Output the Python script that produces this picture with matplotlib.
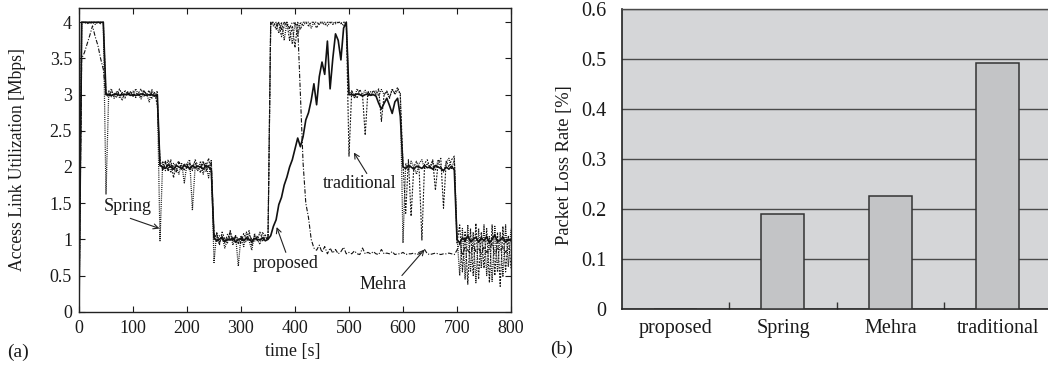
import matplotlib
matplotlib.use('Agg')
import matplotlib.pyplot as plt
import numpy as np

plt.rcParams['font.family'] = ['Liberation Serif', 'DejaVu Serif']

# ---------------- data: (a) access link utilization [Mbps] -----------------
time_s = np.arange(0, 805, 5)

proposed_util = [
    0, 4.0, 4.0, 4.0, 4.0, 4.0, 4.0, 4.0, 4.0, 4.0,
    3.0, 3.0, 2.99, 3.0, 3.01, 2.99, 3.0, 3.0, 3.01, 2.99,
    3.0, 2.99, 3.0, 3.01, 3.0, 2.99, 3.0, 3.0, 2.98, 3.0,
    2.02, 2.0, 1.98, 2.03, 2.0, 1.97, 2.02, 2.0, 1.98, 2.02,
    2.0, 1.98, 2.02, 1.99, 2.01, 2.0, 1.97, 2.02, 2.0, 1.96,
    1.02, 0.98, 1.0, 1.03, 0.97, 1.0, 0.99, 1.02, 0.96, 1.0,
    1.01, 0.98, 1.02, 1.0, 0.97, 1.01, 1.0, 0.99, 1.02, 0.98,
    1.0, 1.05, 1.18, 1.27, 1.48, 1.58, 1.75, 1.86, 2.0, 2.1,
    2.25, 2.4, 2.28, 2.42, 2.65, 2.75, 2.92, 3.15, 2.86, 3.25,
    3.45, 3.28, 3.74, 3.08, 3.5, 3.84, 3.75, 3.48, 3.92, 4.0,
    3.0, 3.0, 2.99, 3.01, 3.0, 2.98, 3.0, 3.01, 2.99, 3.0,
    2.98, 2.88, 2.8, 2.88, 2.95, 2.85, 2.74, 2.9, 2.95, 2.7,
    2.0, 1.98, 2.02, 2.0, 1.97, 2.01, 2.0, 1.98, 2.02, 1.99,
    2.0, 1.97, 2.02, 2.0, 1.98, 1.95, 2.0, 1.97, 2.01, 1.96,
    1.0, 0.95, 1.02, 0.98, 1.05, 0.97, 1.0, 1.03, 0.96, 1.02,
    0.98, 1.04, 0.95, 1.0, 1.06, 0.97, 0.99, 1.03, 0.96, 1.0,
    0.98]

mehra_util = [
    0, 3.5, 3.58, 3.7, 3.82, 3.95, 3.8, 3.68, 3.5, 3.35,
    3.0, 3.05, 2.97, 3.02, 3.0, 2.96, 3.03, 2.99, 3.0, 3.04,
    2.98, 3.02, 3.0, 2.97, 3.05, 3.0, 2.98, 3.03, 3.0, 2.96,
    2.05, 1.98, 2.08, 1.95, 2.03, 2.0, 1.93, 2.07, 2.0, 1.96,
    2.04, 1.95, 2.02, 2.06, 1.97, 2.0, 2.08, 1.94, 2.03, 2.05,
    1.08, 0.97, 1.05, 1.0, 0.95, 1.07, 1.0, 0.98, 1.04, 0.94,
    1.03, 1.0, 0.96, 1.06, 1.0, 0.97, 1.04, 1.0, 0.98, 1.02,
    1.0, 3.98, 4.0, 3.95, 4.0, 3.9, 4.0, 3.97, 3.92, 4.0,
    3.98, 3.95, 3.0, 2.05, 1.5, 1.3, 1.0, 0.88, 0.85, 0.92,
    0.82, 0.9, 0.8, 0.88, 0.81, 0.86, 0.8, 0.83, 0.89, 0.8,
    0.82, 0.8, 0.84, 0.8, 0.79, 0.88, 0.8, 0.82, 0.8, 0.83,
    0.8, 0.79, 0.86, 0.8, 0.81, 0.8, 0.83, 0.79, 0.8, 0.8,
    0.82, 0.79, 0.8, 0.8, 0.81, 0.79, 0.8, 0.82, 0.86, 0.8,
    0.79, 0.8, 0.81, 0.8, 0.79, 0.8, 0.8, 0.81, 0.8, 0.79,
    0.85, 0.95, 0.78, 0.9, 0.85, 0.8, 0.92, 0.83, 0.88, 0.8,
    0.9, 0.82, 0.86, 0.95, 0.8, 0.88, 0.84, 0.9, 0.82, 0.87,
    0.85]

spring_util = [
    0, 4.0, 4.0, 3.98, 4.0, 4.0, 3.97, 4.0, 4.0, 4.0,
    1.62, 3.02, 3.08, 2.95, 3.05, 3.0, 2.92, 3.06, 3.0, 3.04,
    2.97, 3.08, 3.0, 2.94, 3.05, 3.02, 2.9, 3.07, 2.97, 3.05,
    0.98, 2.08, 1.95, 2.1, 1.92, 2.05, 2.0, 1.9, 2.06, 1.78,
    2.05, 2.1, 1.4, 2.0, 1.95, 2.08, 1.9, 2.05, 1.85, 2.1,
    0.68, 1.1, 0.95, 1.05, 0.88, 1.0, 1.1, 0.92, 1.05, 0.63,
    1.05, 0.9, 1.1, 0.98, 0.85, 1.08, 1.0, 0.93, 1.1, 1.02,
    1.0, 4.0, 3.95, 4.0, 3.85, 4.0, 3.75, 4.0, 3.9, 3.7,
    4.0, 3.8, 4.0, 3.95, 4.0, 4.0, 3.92, 4.0, 4.0, 3.97,
    4.0, 4.0, 3.95, 4.0, 4.0, 3.98, 4.0, 4.0, 3.95, 4.0,
    3.0, 3.05, 2.95, 3.08, 3.0, 3.0, 3.06, 2.97, 3.04, 3.0,
    3.05, 2.98, 3.07, 3.0, 3.04, 2.95, 3.08, 3.0, 3.06, 3.02,
    0.95, 2.05, 1.95, 2.08, 2.0, 1.9, 2.05, 2.1, 1.97, 2.05,
    2.0, 2.08, 1.95, 2.1, 2.0, 1.93, 2.06, 2.12, 1.98, 2.1,
    1.05, 0.5, 1.15, 0.45, 1.2, 0.55, 1.1, 0.4, 1.15, 0.6,
    1.2, 0.5, 1.05, 0.42, 1.18, 0.55, 1.1, 0.48, 1.2, 0.62,
    1.15]

traditional_util = [
    0, 4.0, 4.0, 4.0, 3.98, 4.0, 4.0, 4.0, 3.98, 4.0,
    3.0, 2.97, 3.05, 3.0, 2.96, 3.08, 3.0, 2.95, 3.04, 3.0,
    3.05, 2.96, 3.02, 3.08, 2.98, 3.0, 3.06, 2.95, 3.03, 2.85,
    2.1, 1.95, 2.05, 1.98, 2.1, 1.85, 2.04, 2.08, 1.96, 2.05,
    1.98, 2.06, 1.95, 2.1, 2.02, 1.92, 2.07, 2.0, 2.12, 1.9,
    1.0, 1.08, 0.92, 1.1, 1.0, 0.95, 1.12, 0.98, 1.05, 1.0,
    0.95, 1.08, 1.0, 1.12, 0.92, 1.05, 0.98, 1.1, 1.0, 1.06,
    1.0, 4.0, 4.0, 3.9, 4.0, 3.8, 3.95, 4.0, 3.75, 3.95,
    3.65, 4.0, 3.9, 4.0, 4.0, 3.95, 4.0, 4.0, 3.92, 4.0,
    4.0, 3.96, 4.0, 4.0, 3.97, 4.0, 4.0, 3.98, 4.0, 4.0,
    2.15, 3.05, 3.0, 2.95, 3.07, 3.0, 2.44, 3.05, 2.98, 3.06,
    3.0, 3.08, 2.63, 3.0, 3.05, 2.96, 3.07, 3.02, 3.1, 3.0,
    2.05, 1.36, 2.1, 1.32, 2.0, 2.08, 1.95, 0.99, 2.05, 2.1,
    1.98, 2.1, 1.68, 2.05, 2.12, 1.43, 2.08, 2.0, 2.1, 2.15,
    0.95, 1.2, 0.55, 1.1, 0.38, 1.15, 0.5, 1.22, 0.45, 1.1,
    0.6, 1.15, 0.4, 1.2, 0.5, 1.1, 0.35, 1.18, 0.55, 1.05,
    0.6]

util_yticks = [0, 0.5, 1, 1.5, 2, 2.5, 3, 3.5, 4]
util_yticklabels = ['0', '0.5', '1', '1.5', '2', '2.5', '3', '3.5', '4']
time_xticks = [0, 100, 200, 300, 400, 500, 600, 700, 800]

# ---------------- data: (b) packet loss rate [%] -----------------
bar_categories = ['proposed', 'Spring', 'Mehra', 'traditional']
loss_rate = [0.0, 0.19, 0.227, 0.492]
loss_yticks = [0, 0.1, 0.2, 0.3, 0.4, 0.5, 0.6]
loss_yticklabels = ['0', '0.1', '0.2', '0.3', '0.4', '0.5', '0.6']

# ---------------- figure -----------------
W, H = 1048, 368
fig = plt.figure(figsize=(W / 100, H / 100), dpi=100)
txtc = '#1a1a1a'

# (a)
ax1 = fig.add_axes([79 / W, (H - 311.7) / H, 432 / W, (311.7 - 7.8) / H])
ink = '#111111'
ax1.plot(time_s, traditional_util, color=ink, lw=0.8, dashes=(1.6, 1.2))
ax1.plot(time_s, spring_util, color=ink, lw=0.9, dashes=(0.8, 0.9))
ax1.plot(time_s, mehra_util, color=ink, lw=0.8, dashes=(4, 1.5, 1, 1.5))
ax1.plot(time_s, proposed_util, color=ink, lw=1.2)

ax1.set_xlim(0, 800)
ax1.set_ylim(0, 4.2)
ax1.set_xticks(time_xticks)
ax1.set_yticks(util_yticks)
ax1.set_yticklabels(util_yticklabels)
ax1.tick_params(direction='in', top=True, right=True, length=4, width=0.8,
                labelsize=13, colors=txtc)
ax1.tick_params(axis='x', pad=6)
ax1.tick_params(axis='y', pad=5)
for s in ax1.spines.values():
    s.set_linewidth(1.0)
    s.set_color('#222222')

arrow_kw = dict(arrowstyle='->', lw=0.8, color='#222222', shrinkA=0, shrinkB=0,
                mutation_scale=9)
labels_a = [
    ('Spring', (91, 1.45), (95, 1.29), (149, 1.15)),
    ('proposed', (382, 0.67), (383, 0.82), (366, 1.17)),
    ('traditional', (520, 1.77), (533, 1.91), (509, 2.2)),
    ('Mehra', (563, 0.37), (598, 0.5), (640, 0.86)),
]
for txt, tpos, a0, a1 in labels_a:
    ax1.text(tpos[0], tpos[1], txt, ha='center', va='center', fontsize=13,
             color=txtc)
    ax1.annotate('', xy=a1, xytext=a0, arrowprops=arrow_kw)

fig.text(293 / W, (H - 351.5) / H, 'time [s]', ha='center', va='center',
         fontsize=13, color=txtc)
fig.text(18 / W, (H - 160) / H, 'Access Link Utilization [Mbps]', ha='center',
         va='center', rotation=90, fontsize=12.7, color=txtc)
fig.text(18 / W, (H - 352) / H, '(a)', ha='center', va='center', fontsize=14,
         color=txtc)

# (b)
ax2 = fig.add_axes([621.7 / W, (H - 309.3) / H, 430 / W, 300 / H])
ax2.set_facecolor('#d5d6d8')
xpos = np.arange(len(bar_categories)) + 0.5
ax2.bar(xpos, loss_rate, width=0.4, color='#c3c4c6', edgecolor='#333333',
        linewidth=1.1, zorder=3)
ax2.set_xlim(0, 4)
ax2.set_ylim(0, 0.6)
ax2.set_yticks(loss_yticks)
ax2.set_yticklabels(loss_yticklabels)
ax2.set_xticks(xpos)
ax2.set_xticklabels(bar_categories)
ax2.set_xticks([1, 2, 3], minor=True)
ax2.yaxis.grid(True, color='#4a4a4a', lw=1.0, zorder=1)
ax2.set_axisbelow(True)
ax2.tick_params(axis='y', length=0, pad=11, labelsize=14.5, colors=txtc)
ax2.tick_params(axis='x', which='major', length=0, pad=7, labelsize=14.5,
                colors=txtc)
ax2.tick_params(axis='x', which='minor', direction='in', length=5, width=1.0,
                color='#333333')
for s in ax2.spines.values():
    s.set_linewidth(1.2)
    s.set_color('#222222')
ax2.spines['top'].set_color('#4a4a4a')
ax2.spines['top'].set_linewidth(1.0)

fig.text(565 / W, (H - 165) / H, 'Packet Loss Rate [%]', ha='center',
         va='center', rotation=90, fontsize=13.3, color=txtc)
fig.text(562 / W, (H - 349) / H, '(b)', ha='center', va='center',
         fontsize=14, color=txtc)

fig.savefig('out.png', dpi=100)
